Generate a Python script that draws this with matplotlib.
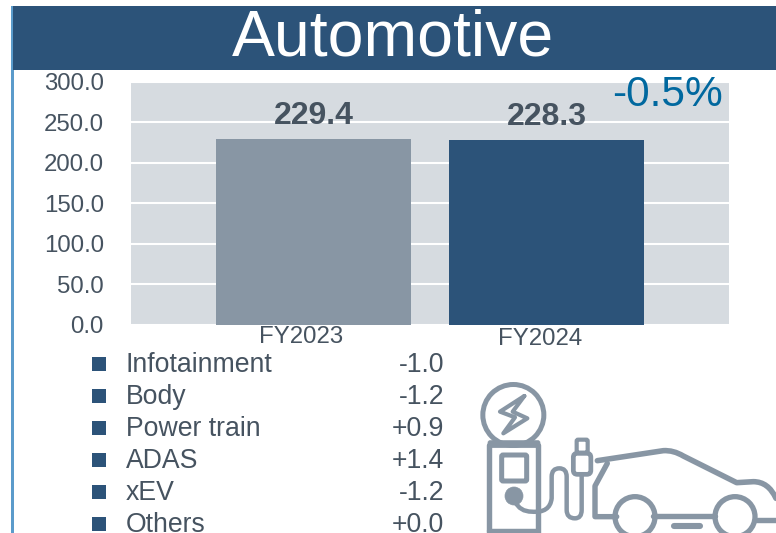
import numpy as np
import matplotlib
matplotlib.use('Agg')
import matplotlib.pyplot as plt
from matplotlib.patches import Circle, FancyBboxPatch, PathPatch, Rectangle
from matplotlib.path import Path

plt.rcParams['font.family'] = ['Liberation Sans', 'DejaVu Sans']

title = 'Automotive'
years = ['FY2023', 'FY2024']
sales = [229.4, 228.3]
bar_colors = ['#8896A4', '#2C5379']
yticks = [0, 50, 100, 150, 200, 250, 300]
change = '-0.5%'
segments = ['Infotainment', 'Body', 'Power train', 'ADAS', 'xEV', 'Others']
deltas = ['-1.0', '-1.2', '+0.9', '+1.4', '-1.2', '+0.0']

TEXT = '#465360'
NAVY = '#2C5379'
GREY = '#8896A4'
W, H = 776, 533


def zx(x):
    return 470 + x / 3


def zy(y):
    return 370 + y / 3


def stroke(ov, pts, codes=None, lw=3.9):
    # pts are in the coordinates of the icon crop
    pts = [(zx(a), zy(b)) for a, b in pts]
    if codes is None:
        codes = [Path.MOVETO] + [Path.LINETO] * (len(pts) - 1)
    ov.add_patch(PathPatch(Path(pts, codes), fill=False, ec=GREY, lw=lw,
                           capstyle='round', joinstyle='round'))


def draw_icon(ov):
    ov.add_patch(Circle((zx(130), zy(135)), 30.5, fill=False, ec=GREY, lw=3.6))
    stroke(ov, [(163, 78), (90, 125), (135, 142), (100, 190), (172, 145), (128, 125), (163, 78)], lw=3.0)
    # pump
    ov.add_patch(FancyBboxPatch((zx(54), zy(212)), 52, 7, boxstyle='round,pad=0,rounding_size=2',
                                fc=GREY, ec=GREY, lw=0.5))
    stroke(ov, [(58, 225), (58, 500)])
    stroke(ov, [(205, 225), (205, 500)])
    stroke(ov, [(58, 484), (205, 484)], lw=3.2)
    ov.add_patch(FancyBboxPatch((zx(95), zy(255)), 25, 26, boxstyle='round,pad=0,rounding_size=1.5',
                                fill=False, ec=GREY, lw=3.6))
    ov.add_patch(Circle((zx(132), zy(378)), 9, fc=GREY, ec=GREY, lw=0.5))
    # cable
    M, L, C = Path.MOVETO, Path.LINETO, Path.CURVE3
    stroke(ov, [(135, 395), (150, 425), (185, 425), (240, 430), (245, 385), (245, 320), (245, 295),
                (268, 295), (290, 295), (290, 320), (290, 420), (290, 445), (315, 445),
                (335, 445), (335, 420), (335, 315)],
           [M, C, C, C, C, L, C, C, C, C, L, C, C, C, C, L], lw=3.2)
    # plug
    ov.add_patch(FancyBboxPatch((zx(310), zy(250)), 17.5, 21, boxstyle='round,pad=0,rounding_size=4',
                                fill=False, ec=GREY, lw=3.4))
    ov.add_patch(FancyBboxPatch((zx(320), zy(209)), 11, 13, boxstyle='round,pad=0,rounding_size=1.5',
                                fill=False, ec=GREY, lw=3.0))
    # car body
    stroke(ov, [(382, 272), (580, 242), (610, 240), (640, 258), (800, 338), (850, 335), (895, 335),
                (918, 385)], [M, L, C, C, L, L, C, C], lw=4.0)
    stroke(ov, [(412, 280), (375, 348), (375, 440), (440, 440)])
    stroke(ov, [(550, 438), (735, 438)])
    stroke(ov, [(860, 450), (925, 450)])
    stroke(ov, [(612, 468), (690, 468)], lw=4.4)
    ov.add_patch(Circle((zx(495), zy(440)), 20, fill=False, ec=GREY, lw=3.8))
    ov.add_patch(Circle((zx(795), zy(440)), 20, fill=False, ec=GREY, lw=3.8))


def main():
    fig = plt.figure(figsize=(W / 100, H / 100), dpi=100)

    # chart axes, placed on the plot area of the picture
    ax = fig.add_axes([131 / W, 1 - 324.8 / H, 598 / W, 243.3 / H])
    ax.set_facecolor('#D6DBE0')
    x = np.arange(len(years))
    ax.bar(x, sales, width=0.837, color=bar_colors, zorder=3, clip_on=False)
    ax.set_xlim(-0.783, 1.783)
    ax.set_ylim(0, 300)
    ax.set_yticks(yticks)
    ax.set_yticklabels([f'{v:.1f}' for v in yticks], fontsize=17.3, color=TEXT)
    ax.set_xticks([])
    ax.tick_params(axis='y', length=0, pad=19.5)
    ax.grid(axis='y', color='white', lw=1.5, zorder=1)
    for s in ax.spines.values():
        s.set_visible(False)
    for i, v in enumerate(sales):
        ax.text(i, v + 9, f'{v:.1f}', ha='center', va='bottom', fontsize=23,
                fontweight='bold', color=TEXT, zorder=4)

    # everything else in pixel coordinates
    ov = fig.add_axes([0, 0, 1, 1], zorder=5)
    ov.set_xlim(0, W)
    ov.set_ylim(H, 0)
    ov.axis('off')
    ov.add_patch(Rectangle((11, 6), 2.5, H - 6, fc='#5B9BCB', ec='none'))
    ov.add_patch(Rectangle((13, 6), W - 13, 64, fc=NAVY, ec='none'))
    ov.text(392.5, 39, title, ha='center', va='center', fontsize=46.4, color='white')
    ov.text(668, 95, change, ha='center', va='center', fontsize=30.5, color='#00689F')
    ov.text(301, 337, years[0], ha='center', va='center', fontsize=17.3, color=TEXT)
    ov.text(540, 339, years[1], ha='center', va='center', fontsize=17.3, color=TEXT)

    rows = 363.5 + 32 * np.arange(len(segments))
    ov.scatter([98.5] * len(segments), rows, marker='s', s=115, color=NAVY, linewidths=0)
    for y, name, d in zip(rows, segments, deltas):
        ov.text(126, y + 1.5, name, ha='left', va='center', fontsize=19.2, color=TEXT)
        ov.text(444, y + 1.5, d, ha='right', va='center', fontsize=19.2, color=TEXT)

    draw_icon(ov)
    fig.savefig('out.png', dpi=100)


if __name__ == "__main__":
    main()
